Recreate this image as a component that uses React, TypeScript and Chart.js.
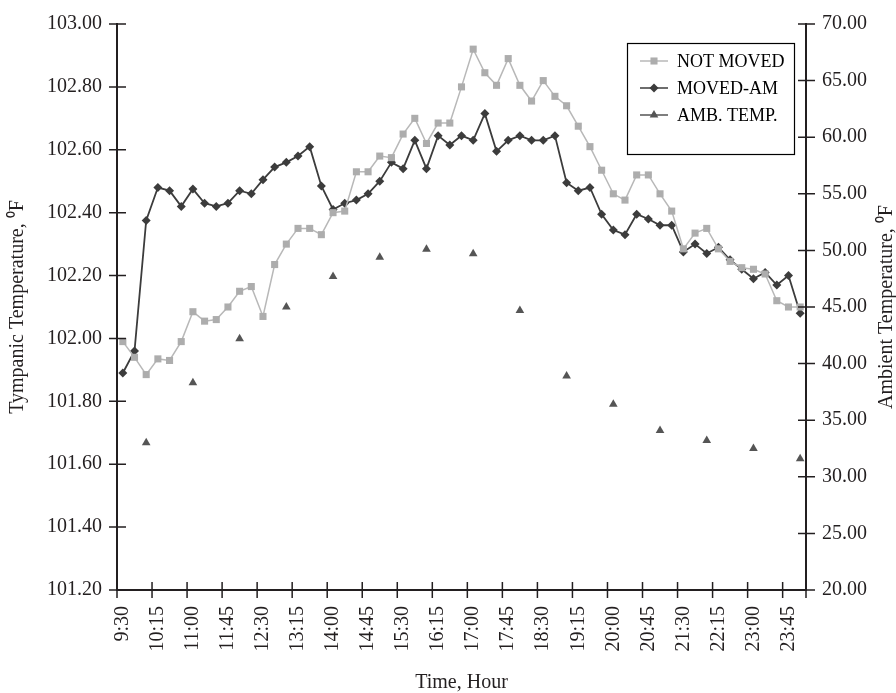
import React, { useEffect, useRef } from 'react';
import { Chart, registerables } from 'chart.js';

Chart.register(...registerables);

const timeLabels = [
  '9:30', '9:45', '10:00', '10:15', '10:30', '10:45', '11:00', '11:15', '11:30', '11:45',
  '12:00', '12:15', '12:30', '12:45', '13:00', '13:15', '13:30', '13:45', '14:00', '14:15',
  '14:30', '14:45', '15:00', '15:15', '15:30', '15:45', '16:00', '16:15', '16:30', '16:45',
  '17:00', '17:15', '17:30', '17:45', '18:00', '18:15', '18:30', '18:45', '19:00', '19:15',
  '19:30', '19:45', '20:00', '20:15', '20:30', '20:45', '21:00', '21:15', '21:30', '21:45',
  '22:00', '22:15', '22:30', '22:45', '23:00', '23:15', '23:30', '23:45', '24:00',
];

const notMoved = [
  101.99, 101.94, 101.885, 101.935, 101.93, 101.99, 102.085, 102.055, 102.06, 102.10,
  102.15, 102.165, 102.07, 102.235, 102.30, 102.35, 102.35, 102.33, 102.40, 102.405,
  102.53, 102.53, 102.58, 102.575, 102.65, 102.70, 102.62, 102.685, 102.685, 102.80,
  102.92, 102.845, 102.805, 102.89, 102.805, 102.755, 102.82, 102.77, 102.74, 102.675,
  102.61, 102.535, 102.46, 102.44, 102.52, 102.52, 102.46, 102.405, 102.285, 102.335,
  102.35, 102.285, 102.245, 102.225, 102.22, 102.205, 102.12, 102.10, 102.10,
];

const movedAm = [
  101.89, 101.96, 102.375, 102.48, 102.47, 102.42, 102.475, 102.43, 102.42, 102.43,
  102.47, 102.46, 102.505, 102.545, 102.56, 102.58, 102.61, 102.485, 102.41, 102.43,
  102.44, 102.46, 102.50, 102.56, 102.54, 102.63, 102.54, 102.645, 102.615, 102.645,
  102.63, 102.715, 102.595, 102.63, 102.645, 102.63, 102.63, 102.645, 102.495, 102.47,
  102.48, 102.395, 102.345, 102.33, 102.395, 102.38, 102.36, 102.36, 102.275, 102.30,
  102.27, 102.29, 102.25, 102.22, 102.19, 102.21, 102.17, 102.20, 102.08,
];

const ambHours = [
  '10:00', '11:00', '12:00', '13:00', '14:00', '15:00', '16:00', '17:00',
  '18:00', '19:00', '20:00', '21:00', '22:00', '23:00', '24:00',
];
const ambTemp = [33.0, 38.3, 42.2, 45.0, 47.7, 49.4, 50.1, 49.7, 44.7, 38.9, 36.4, 34.1, 33.2, 32.5, 31.6];

const seriesNames = ['NOT MOVED', 'MOVED-AM', 'AMB. TEMP.'];
const leftTitle = 'Tympanic Temperature, \u2070F';
const rightTitle = 'Ambient Temperature, \u2070F';
const xTitle = 'Time, Hour';

const FONT = "'Liberation Serif', 'Times New Roman', serif";
const INK = '#231f20';
const LIGHT = '#adadad';
const DARK = '#3c3c3c';
const TRI = '#555555';

function drawMarker(ctx: CanvasRenderingContext2D, style: string, x: number, y: number, r: number) {
  ctx.beginPath();
  if (style === 'rect') {
    const s = r * Math.SQRT1_2;
    ctx.rect(x - s, y - s, 2 * s, 2 * s);
  } else if (style === 'rectRot') {
    ctx.moveTo(x, y - r);
    ctx.lineTo(x + r, y);
    ctx.lineTo(x, y + r);
    ctx.lineTo(x - r, y);
    ctx.closePath();
  } else {
    for (let k = 0; k < 3; k++) {
      const ang = (k * 2 * Math.PI) / 3;
      const px = x + Math.sin(ang) * r;
      const py = y - Math.cos(ang) * r;
      if (k === 0) ctx.moveTo(px, py);
      else ctx.lineTo(px, py);
    }
    ctx.closePath();
  }
  ctx.fill();
}

const axisDecor = {
  id: 'axisDecor',
  afterDraw(chart: any) {
    const { ctx, chartArea: a, scales } = chart;
    ctx.save();
    ctx.strokeStyle = INK;
    ctx.lineWidth = 1.5;
    ctx.beginPath();
    scales.y.ticks.forEach((t: any) => {
      const y = scales.y.getPixelForValue(t.value);
      ctx.moveTo(a.left - 8, y);
      ctx.lineTo(a.left + 9, y);
    });
    scales.y1.ticks.forEach((t: any) => {
      const y = scales.y1.getPixelForValue(t.value);
      ctx.moveTo(a.right - 8, y);
      ctx.lineTo(a.right + 9, y);
    });
    const n = scales.x.ticks.length;
    const w = (a.right - a.left) / n;
    for (let i = 0; i <= n; i++) {
      if (i % 3 === 0 || i === n) {
        const x = a.left + i * w;
        ctx.moveTo(x, a.bottom - 8);
        ctx.lineTo(x, a.bottom + 8);
      }
    }
    ctx.stroke();

    // right axis title (reads bottom to top)
    ctx.save();
    ctx.fillStyle = INK;
    ctx.font = `20px ${FONT}`;
    ctx.textAlign = 'center';
    ctx.textBaseline = 'middle';
    ctx.translate(a.right + 81, (a.top + a.bottom) / 2);
    ctx.rotate(-Math.PI / 2);
    ctx.fillText(rightTitle, 0, 0);
    ctx.restore();

    // legend box inside plot
    const W = 167;
    const H = 111;
    const L = a.right - 12 - W;
    const T = a.top + 19;
    ctx.fillStyle = '#ffffff';
    ctx.fillRect(L, T, W, H);
    ctx.strokeStyle = '#000000';
    ctx.lineWidth = 1.2;
    ctx.strokeRect(L + 0.5, T + 0.5, W, H);
    chart.data.datasets.forEach((ds: any, k: number) => {
      const y = T + 18 + k * 27;
      ctx.strokeStyle = ds.legendLine;
      ctx.lineWidth = 1.5;
      ctx.beginPath();
      ctx.moveTo(L + 13, y);
      ctx.lineTo(L + 41, y);
      ctx.stroke();
      ctx.fillStyle = ds.pointBackgroundColor;
      drawMarker(ctx, ds.pointStyle, L + 27, y, ds.pointRadius);
      ctx.fillStyle = '#000000';
      ctx.font = `18px ${FONT}`;
      ctx.textAlign = 'left';
      ctx.textBaseline = 'middle';
      ctx.fillText(ds.label, L + 50, y + 1);
    });
    ctx.restore();
  },
};

const bgPlugin = {
  id: 'bgWhite',
  beforeDraw(chart: any) {
    const { ctx, width, height } = chart;
    ctx.save();
    ctx.fillStyle = '#ffffff';
    ctx.fillRect(0, 0, width, height);
    ctx.restore();
  },
};

export default function App() {
  const ref = useRef<HTMLCanvasElement>(null);
  useEffect(() => {
    if (!ref.current) return;
    const tickFont = { family: FONT, size: 20 };
    const chart = new Chart(ref.current, {
      type: 'line',
      data: {
        labels: timeLabels,
        datasets: [
          {
            label: seriesNames[0],
            data: notMoved,
            yAxisID: 'y',
            borderColor: '#b8b8b8',
            borderWidth: 1.5,
            pointStyle: 'rect',
            pointRadius: 5,
            pointBackgroundColor: LIGHT,
            pointBorderColor: LIGHT,
            pointBorderWidth: 0,
            tension: 0,
            legendLine: '#b8b8b8',
          } as any,
          {
            label: seriesNames[1],
            data: movedAm,
            yAxisID: 'y',
            borderColor: DARK,
            borderWidth: 1.8,
            pointStyle: 'rectRot',
            pointRadius: 4.5,
            pointBackgroundColor: DARK,
            pointBorderColor: DARK,
            pointBorderWidth: 0,
            tension: 0,
            legendLine: DARK,
          } as any,
          {
            label: seriesNames[2],
            data: ambHours.map((h, i) => ({ x: h, y: ambTemp[i] })),
            yAxisID: 'y1',
            showLine: false,
            borderColor: TRI,
            pointStyle: 'triangle',
            pointRadius: 5,
            pointBackgroundColor: TRI,
            pointBorderColor: TRI,
            pointBorderWidth: 0,
            legendLine: TRI,
          } as any,
        ],
      },
      options: {
        responsive: false,
        devicePixelRatio: 1,
        animation: false,
        events: [],
        layout: { padding: { top: 24, left: 0, right: 0, bottom: 0 } },
        plugins: {
          legend: { display: false },
          tooltip: { enabled: false },
        },
        scales: {
          x: {
            type: 'category',
            offset: true,
            grid: { display: false, drawTicks: false, offset: true },
            border: { display: true, color: INK, width: 2 },
            ticks: {
              autoSkip: false,
              maxRotation: 90,
              minRotation: 90,
              padding: 16,
              color: INK,
              font: tickFont,
              callback: (_v: any, i: number) => (i % 3 === 0 ? timeLabels[i] : ''),
            },
            title: {
              display: true,
              text: xTitle,
              color: INK,
              font: { family: FONT, size: 20, lineHeight: 1 },
              padding: { top: 0, bottom: 0 },
            },
            afterFit: (s: any) => {
              s.height = 103;
              s.paddingLeft = 0;
              s.paddingRight = 0;
            },
          },
          y: {
            position: 'left',
            min: 101.2,
            max: 103,
            grid: { display: false, drawTicks: false },
            border: { display: true, color: INK, width: 2 },
            ticks: {
              stepSize: 0.2,
              padding: 15,
              color: INK,
              font: tickFont,
              callback: (v: any) => Number(v).toFixed(2),
            },
            title: {
              display: true,
              text: leftTitle,
              color: INK,
              font: { family: FONT, size: 20, lineHeight: 1.2 },
              padding: { top: 6, bottom: 0 },
            },
            afterFit: (s: any) => {
              s.width = 117;
              s.paddingTop = 0;
              s.paddingBottom = 0;
            },
          },
          y1: {
            position: 'right',
            min: 20,
            max: 70,
            grid: { display: false, drawTicks: false },
            border: { display: true, color: INK, width: 2 },
            ticks: {
              stepSize: 5,
              padding: 16,
              color: INK,
              font: tickFont,
              callback: (v: any) => Number(v).toFixed(2),
            },
            afterFit: (s: any) => {
              s.width = 90;
              s.paddingTop = 0;
              s.paddingBottom = 0;
            },
          },
        },
      } as any,
      plugins: [bgPlugin, axisDecor],
    });
    return () => chart.destroy();
  }, []);

  return (
    <div style={{ position: 'absolute', left: 0, top: 0, width: 896, height: 693, background: '#fff' }}>
      <canvas ref={ref} width={896} height={693} style={{ display: 'block', width: 896, height: 693 }} />
    </div>
  );
}
